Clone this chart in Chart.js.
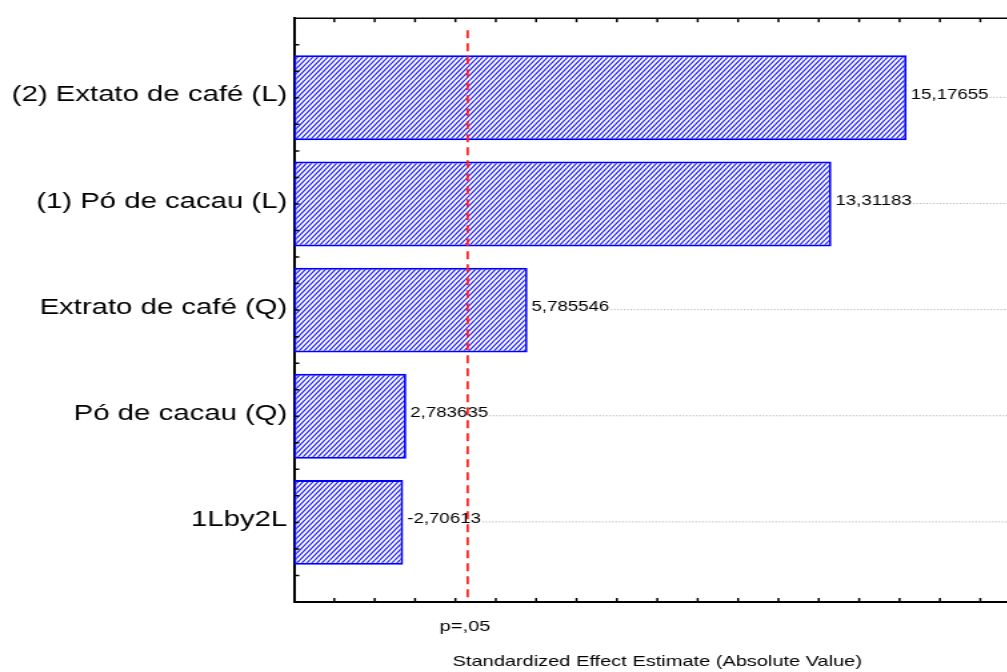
<!DOCTYPE html>
<html>
<head>
<meta charset="utf-8">
<title>Pareto Chart of Standardized Effects</title>
<script src="https://cdn.jsdelivr.net/npm/chart.js@4.4.1/dist/chart.umd.min.js"></script>
<style>
  html, body { margin: 0; padding: 0; background: #fff; overflow: hidden; }
</style>
</head>
<body>
<!-- drawn at 790 wide, shown stretched 4/3 -->
<canvas id="pareto" width="790" height="672" style="width:1053.33px;height:672px"></canvas>
<script>
//--- effects, largest first
var effectNames = ['(2) Extato de café (L)', '(1) Pó de cacau (L)', 'Extrato de café (Q)', 'Pó de cacau (Q)', '1Lby2L'];
var effectValues = [15.17655, 13.31183, 5.785546, 2.783635, -2.70613];
var pLimit = 4.303;        // t crit, p=.05
var pLabel = 'p=,05';
var xTitle = 'Standardized Effect Estimate (Absolute Value)';
var xMax = 18;

var FONT = '"Liberation Sans", Arial, sans-serif';
Chart.defaults.font.family = FONT;

function fmt(v) {
    return String(v).replace('.', ',');
}

//--- diagonal hatch fill
function makeHatch() {
    var c = document.createElement('canvas');
    c.width = 15;
    c.height = 20;
    var g = c.getContext('2d');
    g.fillStyle = '#fff';
    g.fillRect(0, 0, 15, 20);
    g.strokeStyle = '#1414ff';
    g.lineWidth = 1.15;
    g.beginPath();
    for (var k = -5; k <= 5; k++) {
        g.moveTo(k * 3.75, 20);
        g.lineTo(k * 3.75 + 15, 0);
    }
    g.stroke();
    return g.createPattern(c, 'repeat');
}

//--- labels, guide lines, ticks, p line
var extras = {
    id: 'extras',
    afterDatasetsDraw: function (chart) {
        var ctx = chart.ctx, a = chart.chartArea;
        var xs = chart.scales.x, ys = chart.scales.y;
        var bars = chart.getDatasetMeta(0).data;
        ctx.save();

        ctx.font = '14px ' + FONT;
        ctx.textAlign = 'left';
        ctx.textBaseline = 'middle';
        bars.forEach(function (bar, i) {
            var txt = fmt(effectValues[i]);
            var x0 = bar.x + 3;
            var w = ctx.measureText(txt).width;
            ctx.fillStyle = '#000';
            ctx.fillText(txt, x0, bar.y - 3);
            ctx.strokeStyle = '#aaa';
            ctx.lineWidth = 1;
            ctx.setLineDash([1, 1.5]);
            ctx.beginPath();
            ctx.moveTo(x0 + w + 1, bar.y - 0.5);
            ctx.lineTo(a.right, bar.y - 0.5);
            ctx.stroke();
        });
        ctx.setLineDash([]);

        // inner tick marks + top frame
        ctx.strokeStyle = '#000';
        ctx.lineWidth = 1.5;
        ctx.beginPath();
        for (var v = 1; v < xMax; v++) {
            var px = xs.getPixelForValue(v);
            ctx.moveTo(px, a.bottom);
            ctx.lineTo(px, a.bottom - 4);
            ctx.moveTo(px, a.top);
            ctx.lineTo(px, a.top + 4);
        }
        for (var q = -0.5; q <= 4.5; q += 0.25) {
            var py = ys.getPixelForValue(q);
            ctx.moveTo(a.left, py);
            ctx.lineTo(a.left + 4, py);
        }
        ctx.moveTo(a.left, a.top);
        ctx.lineTo(a.right, a.top);
        ctx.stroke();

        // significance limit
        var pX = xs.getPixelForValue(pLimit);
        ctx.strokeStyle = '#ff2020';
        ctx.lineWidth = 1.8;
        ctx.setLineDash([8, 5]);
        ctx.beginPath();
        ctx.moveTo(pX, a.top + 12);
        ctx.lineTo(pX, a.bottom);
        ctx.stroke();
        ctx.setLineDash([]);

        ctx.fillStyle = '#000';
        ctx.font = '15px ' + FONT;
        ctx.textAlign = 'center';
        ctx.textBaseline = 'alphabetic';
        ctx.fillText(pLabel, pX - 2, a.bottom + 29);
        ctx.restore();
    }
};

new Chart(document.getElementById('pareto'), {
    type: 'bar',
    data: {
        datasets: [{
            data: effectValues.map(function (v, i) { return { x: Math.abs(v), y: i }; }),
            backgroundColor: makeHatch(),
            borderColor: '#0000ff',
            borderWidth: 2,
            borderSkipped: false,
            categoryPercentage: 0.8,
            barPercentage: 1
        }]
    },
    options: {
        indexAxis: 'y',
        responsive: false,
        devicePixelRatio: 1,
        animation: false,
        layout: { padding: { top: 18, right: 24.25, left: 0, bottom: 0 } },
        plugins: {
            legend: { display: false },
            tooltip: { enabled: false }
        },
        scales: {
            x: {
                type: 'linear',
                min: 0,
                max: xMax,
                grid: { display: false, drawTicks: false },
                border: { color: '#000', width: 2 },
                ticks: { display: false },
                title: {
                    display: true,
                    text: xTitle,
                    color: '#000',
                    font: { size: 15 },
                    padding: { top: 0, bottom: 1.5 }
                },
                afterFit: function (s) { s.height = 70; }
            },
            y: {
                type: 'linear',
                min: -0.75,
                max: 4.75,
                reverse: true,
                offset: false,
                grid: { display: false, drawTicks: false },
                border: { color: '#000', width: 2 },
                afterBuildTicks: function (s) {
                    s.ticks = effectNames.map(function (n, i) { return { value: i }; });
                },
                ticks: {
                    autoSkip: false,
                    padding: 5,
                    labelOffset: -2.5,
                    color: '#000',
                    font: { size: 22 },
                    callback: function (v) { return effectNames[v]; }
                },
                afterFit: function (s) { s.width = 220.5; }
            }
        }
    },
    plugins: [extras]
});
</script>
</body>
</html>
